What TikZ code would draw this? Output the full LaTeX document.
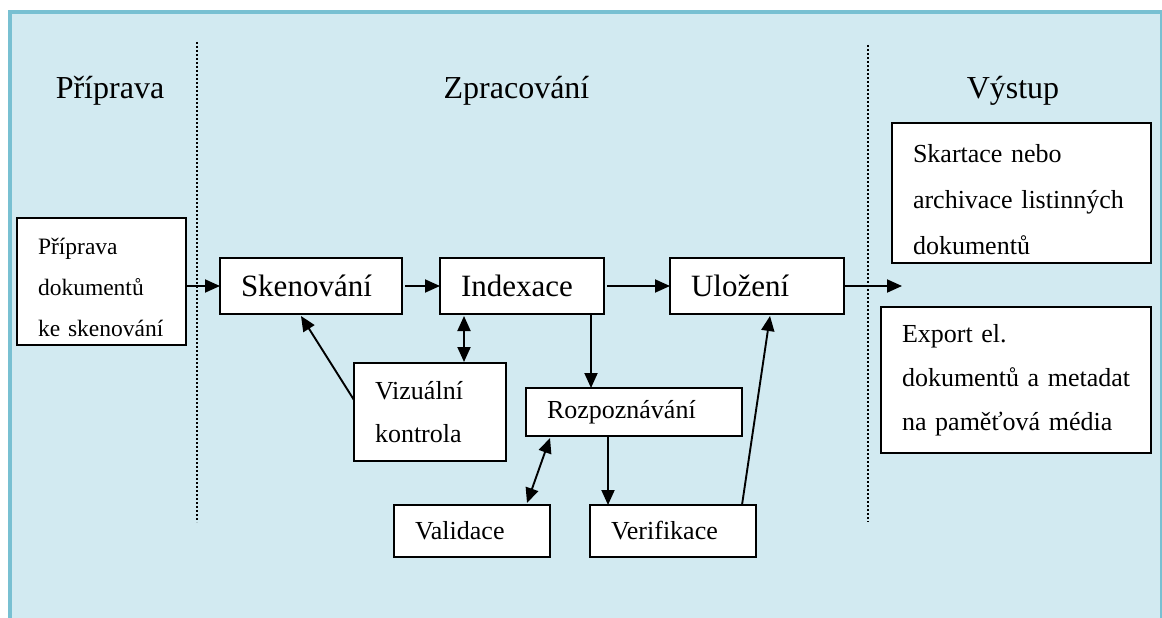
\documentclass[tikz,border=0pt]{standalone}
\usepackage{fontspec}
\setmainfont{Liberation Serif}
\usetikzlibrary{arrows.meta,calc}
\definecolor{panelfill}{RGB}{210,234,241}
\definecolor{panelrule}{RGB}{120,192,210}
\newcommand\setfs[2]{\fontsize{#1}{#2}\selectfont}
\begin{document}
\begin{tikzpicture}[x=1pt,y=-1pt,
  box/.style={draw, line width=1.7pt, fill=white, anchor=north west,
    inner xsep=21pt, inner ysep=0pt, align=left, outer sep=0pt},
  bigtxt/.style={font=\setfs{31}{36}},
  smalltxt/.style={font=\setfs{26}{44}},
  heading/.style={anchor=base, font=\setfs{32}{36}},
  tip/.style={Triangle[length=15pt,width=13pt]},
  arr/.style={line width=1.9pt, -{Triangle[length=15pt,width=13pt]}},
  darr/.style={line width=1.9pt, {Triangle[length=15pt,width=13pt]}-{Triangle[length=15pt,width=13pt]}},
  dotline/.style={line width=2pt, dash pattern=on 1.8pt off 2.2pt}]
\useasboundingbox (0,0) rectangle (1162,618);
% panel with its frame on the left, top and right
\fill[panelrule] (8,10) rectangle (1162,618);
\fill[panelfill] (12,14) rectangle (1160.4,618);

% column headings
\node[heading] (hprep) at (110,98) {Příprava};
\node[heading] (hproc) at (516.5,98) {Zpracování};
\node[heading] (hout) at (1013,98) {Výstup};

% column separators
\coordinate (sepAtop) at (197,42);
\coordinate (sepAbot) at (197,522);
\coordinate (sepBtop) at (868,45);
\coordinate (sepBbot) at (868,522);
\draw[dotline] (sepAtop) -- (sepAbot);
\draw[dotline] (sepBtop) -- (sepBbot);

% boxes
\node[box, text width=127pt, minimum height=127pt, font=\setfs{23.5}{41}] (prip) at (17,218)
  {\rule{0pt}{29pt}\mbox{Příprava}\\\mbox{dokumentů}\\\mbox{ke skenování}};
\node[box, bigtxt, text width=140pt, minimum height=56pt] (sken) at (220,258) {Skenování};
\node[box, bigtxt, text width=122pt, minimum height=56pt] (index) at (440,258) {Indexace};
\node[box, bigtxt, text width=132pt, minimum height=56pt] (uloz) at (670,258) {Uložení};
\node[box, smalltxt, text width=110pt, minimum height=98pt, font=\setfs{26}{43}] (viz) at (354,363)
  {\mbox{Vizuální}\\\mbox{kontrola}};
\node[box, smalltxt, text width=174pt, minimum height=48pt] (rozp) at (526,388) {Rozpoznávání};
\node[box, smalltxt, text width=114pt, minimum height=52pt] (valid) at (394,505) {Validace};
\node[box, smalltxt, text width=124pt, minimum height=52pt] (verif) at (590,505) {Verifikace};
\node[box, smalltxt, text width=217pt, minimum height=140pt, font=\setfs{26}{46}] (skart) at (892,123)
  {\rule{0pt}{31pt}\mbox{Skartace nebo}\\\mbox{archivace listinných}\\\mbox{dokumentů}};
\node[box, smalltxt, text width=228pt, minimum height=146pt] (export) at (881,307)
  {\mbox{Export el.}\\\mbox{dokumentů a metadat}\\\mbox{na paměťová média}};

% connectors
\coordinate (outtip) at (902,287);
\draw[arr] (prip.east |- sken.west) -- (sken.west);
\draw[arr, shorten <=3pt] (sken.east) -- (index.west);
\draw[arr, shorten <=3pt] (index.east) -- (uloz.west);
\draw[arr] (uloz.east) -- (outtip |- uloz.east);
\draw[arr] ($(viz.north west)+(0,37)$) -- ($(sken.south west)+(81,2)$);
\draw[darr] ($(index.south west)+(24,2)$) -- ($(viz.north west)+(110,-1)$);
\draw[arr] ($(index.south west)+(151,0)$) -- ($(rozp.north west)+(65,0)$);
\draw[darr] ($(rozp.south west)+(24,2)$) -- ($(valid.north west)+(133,-2)$);
\draw[arr] ($(rozp.south west)+(82,0)$) -- ($(verif.north west)+(18,0)$);
\draw[arr] ($(verif.north east)+(-14,0)$) -- ($(uloz.south west)+(100,2)$);
\end{tikzpicture}
\end{document}
